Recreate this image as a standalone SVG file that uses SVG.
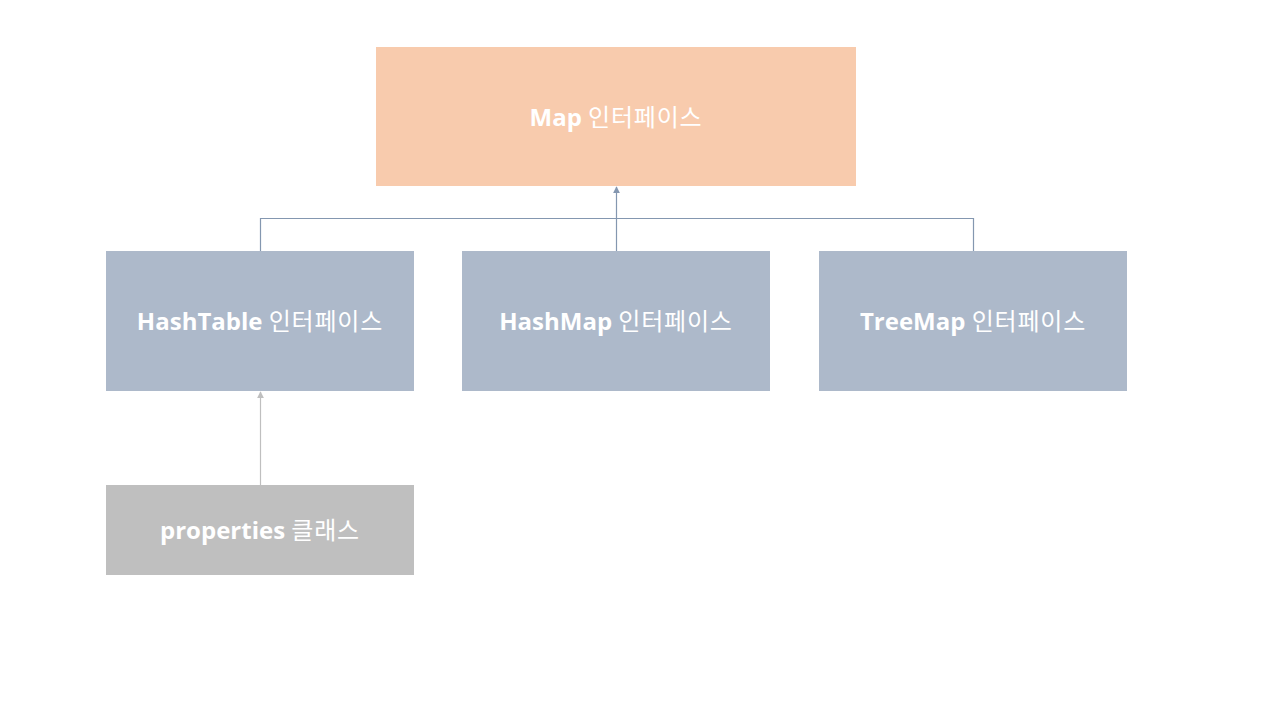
<svg xmlns="http://www.w3.org/2000/svg" width="1280" height="720" viewBox="0 0 1280 720">
<style>
.lbl{font-family:"Open Sans","Noto Sans CJK KR",sans-serif;font-size:24px;fill:#ffffff;text-anchor:middle}
.b{font-weight:bold}
.k{font-family:"Noto Sans CJK KR",sans-serif;font-weight:normal;letter-spacing:0.8px}
.iface{fill:#ADB9CA}
</style>
<defs>
<marker id="arrB" viewBox="0 0 10 10" refX="9" refY="5" markerWidth="6" markerHeight="6" orient="auto"><path d="M0,0L10,5L0,10z" fill="#8497B0"/></marker>
<marker id="arrG" viewBox="0 0 10 10" refX="9" refY="5" markerWidth="6" markerHeight="6" orient="auto"><path d="M0,0L10,5L0,10z" fill="#BFBFBF"/></marker>
</defs>
<rect width="1280" height="720" fill="#ffffff"/>
<g id="connectors" fill="none" stroke-width="1.2">
<path d="M260.5,251V218.5H616.5V187" stroke="#8497B0" marker-end="url(#arrB)"/>
<path d="M616.5,251V218.5" stroke="#8497B0"/>
<path d="M973.5,251V218.5H616.5" stroke="#8497B0"/>
<path d="M260.5,485V392" stroke="#BFBFBF" marker-end="url(#arrG)"/>
</g>
<g id="map">
<rect x="376" y="47" width="480" height="139" fill="#F8CBAD"/>
<text class="lbl" x="616" y="126"><tspan class="b">Map  </tspan><tspan class="k">인터페이스</tspan></text>
</g>
<g id="hashtable">
<rect class="iface" x="106" y="251" width="308" height="140"/>
<text class="lbl" x="260" y="330"><tspan class="b">HashTable  </tspan><tspan class="k">인터페이스</tspan></text>
</g>
<g id="hashmap">
<rect class="iface" x="462" y="251" width="308" height="140"/>
<text class="lbl" x="616" y="330"><tspan class="b">HashMap  </tspan><tspan class="k">인터페이스</tspan></text>
</g>
<g id="treemap">
<rect class="iface" x="819" y="251" width="308" height="140"/>
<text class="lbl" x="973" y="330"><tspan class="b">TreeMap  </tspan><tspan class="k">인터페이스</tspan></text>
</g>
<g id="properties">
<rect x="106" y="485" width="308" height="90" fill="#BFBFBF"/>
<text class="lbl" x="260" y="539"><tspan class="b">properties  </tspan><tspan class="k">클래스</tspan></text>
</g>
</svg>
